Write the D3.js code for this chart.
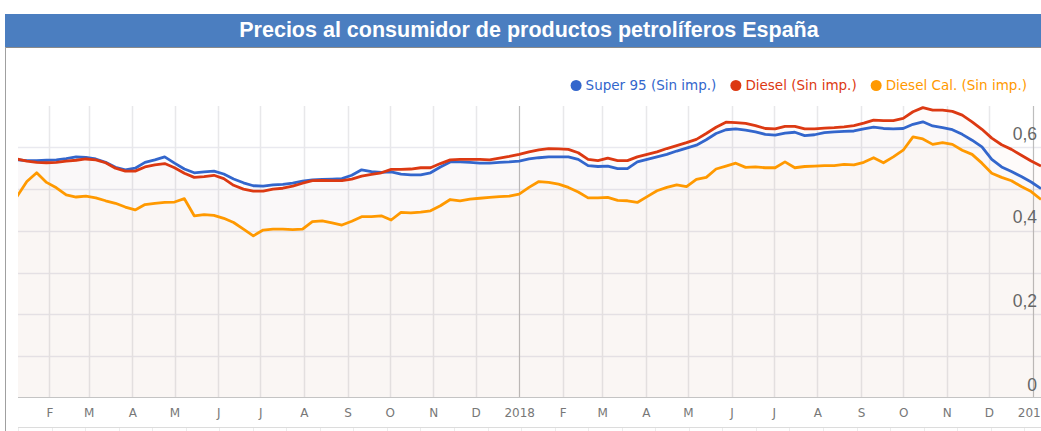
<!DOCTYPE html>
<html>
<head>
<meta charset="utf-8">
<script src="https://cdn.jsdelivr.net/npm/d3@7"></script>
<style>
  body { margin: 0; background: #fff; overflow: hidden; }
</style>
</head>
<body>
<script>
/* data */
var title = 'Precios al consumidor de productos petrolíferos España'
var seriesNames = ['Super 95 (Sin imp.)', 'Diesel (Sin imp.)', 'Diesel Cal. (Sin imp.)']
var seriesColors = ['#3366cc', '#dc3912', '#ff9900']
var monthLabels = ['E', 'F', 'M', 'A', 'M', 'J', 'J', 'A', 'S', 'O', 'N', 'D']
var yLabels = [0, 0.2, 0.4, 0.6]
var firstWeek = '2017-01-09'   // weekly values from here on

var super95 = [
  0.570, 0.568, 0.568, 0.569, 0.570, 0.573, 0.577, 0.576, 0.572, 0.564,
  0.552, 0.546, 0.550, 0.564, 0.570, 0.577, 0.562, 0.548, 0.539, 0.541,
  0.543, 0.536, 0.524, 0.515, 0.508, 0.507, 0.510, 0.511, 0.514, 0.519,
  0.522, 0.523, 0.524, 0.525, 0.533, 0.546, 0.542, 0.540, 0.541, 0.536,
  0.534, 0.534, 0.539, 0.553, 0.565, 0.565, 0.564, 0.562, 0.562, 0.564,
  0.565, 0.567, 0.572, 0.575, 0.577, 0.577, 0.577, 0.571, 0.556, 0.554,
  0.555, 0.549, 0.549, 0.565, 0.571, 0.577, 0.583, 0.591, 0.598, 0.605,
  0.618, 0.633, 0.642, 0.644, 0.641, 0.637, 0.631, 0.629, 0.634, 0.636,
  0.628, 0.630, 0.635, 0.637, 0.638, 0.639, 0.644, 0.648, 0.645, 0.644,
  0.645, 0.655, 0.661, 0.651, 0.647, 0.642, 0.631, 0.617, 0.601, 0.571,
  0.553, 0.542, 0.530, 0.517, 0.501
]

var diesel = [
  0.572, 0.567, 0.564, 0.563, 0.564, 0.567, 0.569, 0.572, 0.570, 0.563,
  0.550, 0.543, 0.543, 0.553, 0.558, 0.561, 0.551, 0.538, 0.528, 0.530,
  0.533, 0.525, 0.509, 0.500, 0.495, 0.495, 0.500, 0.502, 0.507, 0.514,
  0.520, 0.521, 0.520, 0.520, 0.524, 0.531, 0.535, 0.539, 0.547, 0.547,
  0.548, 0.551, 0.551, 0.561, 0.570, 0.571, 0.571, 0.571, 0.570, 0.574,
  0.578, 0.583, 0.589, 0.594, 0.597, 0.596, 0.595, 0.587, 0.571, 0.568,
  0.574, 0.568, 0.568, 0.577, 0.583, 0.589, 0.597, 0.604, 0.611, 0.619,
  0.633, 0.648, 0.660, 0.659, 0.657, 0.652, 0.645, 0.644, 0.650, 0.650,
  0.644, 0.644, 0.646, 0.647, 0.649, 0.652, 0.658, 0.665, 0.664, 0.664,
  0.669, 0.685, 0.695, 0.689, 0.689, 0.686, 0.677, 0.661, 0.643, 0.622,
  0.606, 0.595, 0.581, 0.567, 0.555
]

var dieselCal = [
  0.482, 0.518, 0.539, 0.516, 0.503, 0.486, 0.481, 0.483, 0.479, 0.472,
  0.466, 0.457, 0.450, 0.463, 0.466, 0.468, 0.469, 0.477, 0.436, 0.439,
  0.437, 0.430, 0.420, 0.404, 0.388, 0.402, 0.404, 0.404, 0.403, 0.404,
  0.422, 0.424, 0.419, 0.414, 0.423, 0.434, 0.434, 0.436, 0.426, 0.444,
  0.443, 0.445, 0.448, 0.460, 0.475, 0.472, 0.476, 0.478, 0.480, 0.482,
  0.483, 0.488, 0.504, 0.518, 0.516, 0.512, 0.504, 0.493, 0.479, 0.479,
  0.480, 0.473, 0.472, 0.468, 0.482, 0.496, 0.504, 0.510, 0.506, 0.523,
  0.528, 0.548, 0.555, 0.562, 0.552, 0.553, 0.551, 0.551, 0.565, 0.551,
  0.554, 0.555, 0.556, 0.556, 0.559, 0.558, 0.564, 0.575, 0.563, 0.577,
  0.593, 0.625, 0.620, 0.607, 0.611, 0.607, 0.593, 0.583, 0.562, 0.538,
  0.528, 0.520, 0.506, 0.494, 0.475
]

/* setup */
var width = 1041
var height = 431
var plotLeft = 18
var plotRight = 1041
var plotTop = 105.5
var plotBottom = 398

var start = d3.timeParse('%Y-%m-%d')(firstWeek)
var weeks = super95.map(function(d, i) { return d3.timeWeek.offset(start, i) })

var series = [super95, diesel, dieselCal].map(function(values, i) {
  return {
    name: seriesNames[i],
    color: seriesColors[i],
    values: values.map(function(v, j) { return { date: weeks[j], value: v } })
  }
})

var x = d3.scaleTime()
  .domain([weeks[0], weeks[weeks.length - 1]])
  .range([17, 1041])

var y = d3.scaleLinear()
  .domain([0, 0.7])
  .range([plotBottom, plotTop])

var svg = d3.select('body').append('svg')
  .attr('width', width)
  .attr('height', height)
  .style('display', 'block')

/* frame + title bar */
svg.append('rect')
  .attr('x', 5).attr('y', 14)
  .attr('width', width).attr('height', 33)
  .attr('fill', '#4b7ec0')

svg.append('line')
  .attr('x1', 5).attr('x2', width)
  .attr('y1', 47.5).attr('y2', 47.5)
  .attr('stroke', '#8a8a8a')

svg.append('line')
  .attr('x1', 5.5).attr('x2', 5.5)
  .attr('y1', 47).attr('y2', height)
  .attr('stroke', '#a0a0a0')

svg.append('text')
  .attr('x', 529).attr('y', 37)
  .attr('text-anchor', 'middle')
  .attr('fill', '#fff')
  .style('font', 'bold 21.5px "Liberation Sans", Arial, sans-serif')
  .text(title)

/* legend, right aligned */
var legend = svg.append('g').attr('transform', 'translate(0, 85.5)')
var legendX = 1027
seriesNames.slice().reverse().forEach(function(name, k) {
  var i = seriesNames.length - 1 - k
  var t = legend.append('text')
    .attr('dy', '0.36em')
    .attr('fill', seriesColors[i])
    .style('font', '13.5px "DejaVu Sans", Verdana, sans-serif')
    .text(name)
  var w = t.node().getComputedTextLength()
  t.attr('x', legendX - w)
  legend.append('circle')
    .attr('cx', legendX - w - 9.5)
    .attr('r', 5.5)
    .attr('fill', seriesColors[i])
  legendX = legendX - w - 9.5 - 19.5
})

/* grid */
svg.append('clipPath').attr('id', 'plot-clip')
  .append('rect')
  .attr('x', plotLeft).attr('y', plotTop - 10)
  .attr('width', plotRight - plotLeft).attr('height', plotBottom - plotTop + 12)

var g_grid = svg.append('g')

g_grid.selectAll('line.h')
  .data(y.ticks(7).filter(function(d) { return d > 0 && d < 0.69 }))
  .enter().append('line')
  .attr('class', 'h')
  .attr('x1', plotLeft).attr('x2', plotRight)
  .attr('y1', function(d) { return Math.round(y(d)) + 0.5 })
  .attr('y2', function(d) { return Math.round(y(d)) + 0.5 })
  .attr('stroke', '#e9e9ef')
  .attr('stroke-width', 1.5)

var months = d3.timeMonth.range(new Date(2017, 0, 1), new Date(2019, 1, 1))
  .filter(function(d) { return x(d) >= plotLeft && x(d) <= plotRight })

g_grid.selectAll('line.v')
  .data(months)
  .enter().append('line')
  .attr('class', 'v')
  .attr('x1', function(d) { return Math.round(x(d)) + 0.5 })
  .attr('x2', function(d) { return Math.round(x(d)) + 0.5 })
  .attr('y1', Math.round(plotTop)).attr('y2', plotBottom)
  .attr('stroke', function(d) { return d.getMonth() === 0 ? '#bdbdbd' : '#e8e8ea' })
  .attr('stroke-width', function(d) { return d.getMonth() === 0 ? 1.2 : 1.5 })

/* series */
var g_plot = svg.append('g').attr('clip-path', 'url(#plot-clip)')

var area = d3.area()
  .x(function(d) { return x(d.date) })
  .y0(y(0))
  .y1(function(d) { return y(d.value) })

var line = d3.line()
  .x(function(d) { return x(d.date) })
  .y(function(d) { return y(d.value) })

g_plot.selectAll('path.area')
  .data(series)
  .enter().append('path')
  .attr('class', 'area')
  .attr('d', function(d) { return area(d.values) })
  .attr('fill', function(d) { return d.color })
  .attr('fill-opacity', 0.02)

g_plot.selectAll('path.line')
  .data(series)
  .enter().append('path')
  .attr('class', 'line')
  .attr('d', function(d) { return line(d.values) })
  .attr('fill', 'none')
  .attr('stroke', function(d) { return d.color })
  .attr('stroke-width', 2.8)
  .attr('stroke-linejoin', 'round')

/* baseline */
svg.append('line')
  .attr('x1', plotLeft).attr('x2', plotRight)
  .attr('y1', plotBottom - 0.5).attr('y2', plotBottom - 0.5)
  .attr('stroke', '#c4c4c4')

/* axes */
var xAxis = svg.append('g')
  .attr('transform', 'translate(0,' + plotBottom + ')')
  .call(d3.axisBottom(x)
    .tickValues(months)
    .tickSize(0)
    .tickPadding(10)
    .tickFormat(function(d) {
      return d.getMonth() === 0 ? d.getFullYear() : monthLabels[d.getMonth()]
    }))
xAxis.select('.domain').remove()
xAxis.selectAll('text')
  .attr('fill', '#777')
  .style('font', '12px "DejaVu Sans", Verdana, sans-serif')

var yAxis = svg.append('g')
  .attr('transform', 'translate(1037,0)')
  .call(d3.axisLeft(y)
    .tickValues(yLabels)
    .tickSize(0)
    .tickPadding(0)
    .tickFormat(function(d) { return d === 0 ? '0' : d.toFixed(1).replace('.', ',') }))
yAxis.select('.domain').remove()
yAxis.selectAll('text')
  .attr('y', -8)
  .attr('dy', 0)
  .attr('fill', '#666')
  .style('font', '17.5px "Liberation Sans", Arial, sans-serif')

/* top edge of the navigator strip below */
var navX = d3.scaleLinear().domain([0, 30.5]).range([plotLeft, plotRight])
svg.append('line')
  .attr('x1', plotLeft).attr('x2', plotRight)
  .attr('y1', 427.5).attr('y2', 427.5)
  .attr('stroke', '#dcdcdc')
svg.selectAll('line.nav')
  .data(d3.range(0, 31))
  .enter().append('line')
  .attr('class', 'nav')
  .attr('x1', function(d) { return Math.round(navX(d)) + 0.5 })
  .attr('x2', function(d) { return Math.round(navX(d)) + 0.5 })
  .attr('y1', 428).attr('y2', height)
  .attr('stroke', '#ececec')
</script>
</body>
</html>
